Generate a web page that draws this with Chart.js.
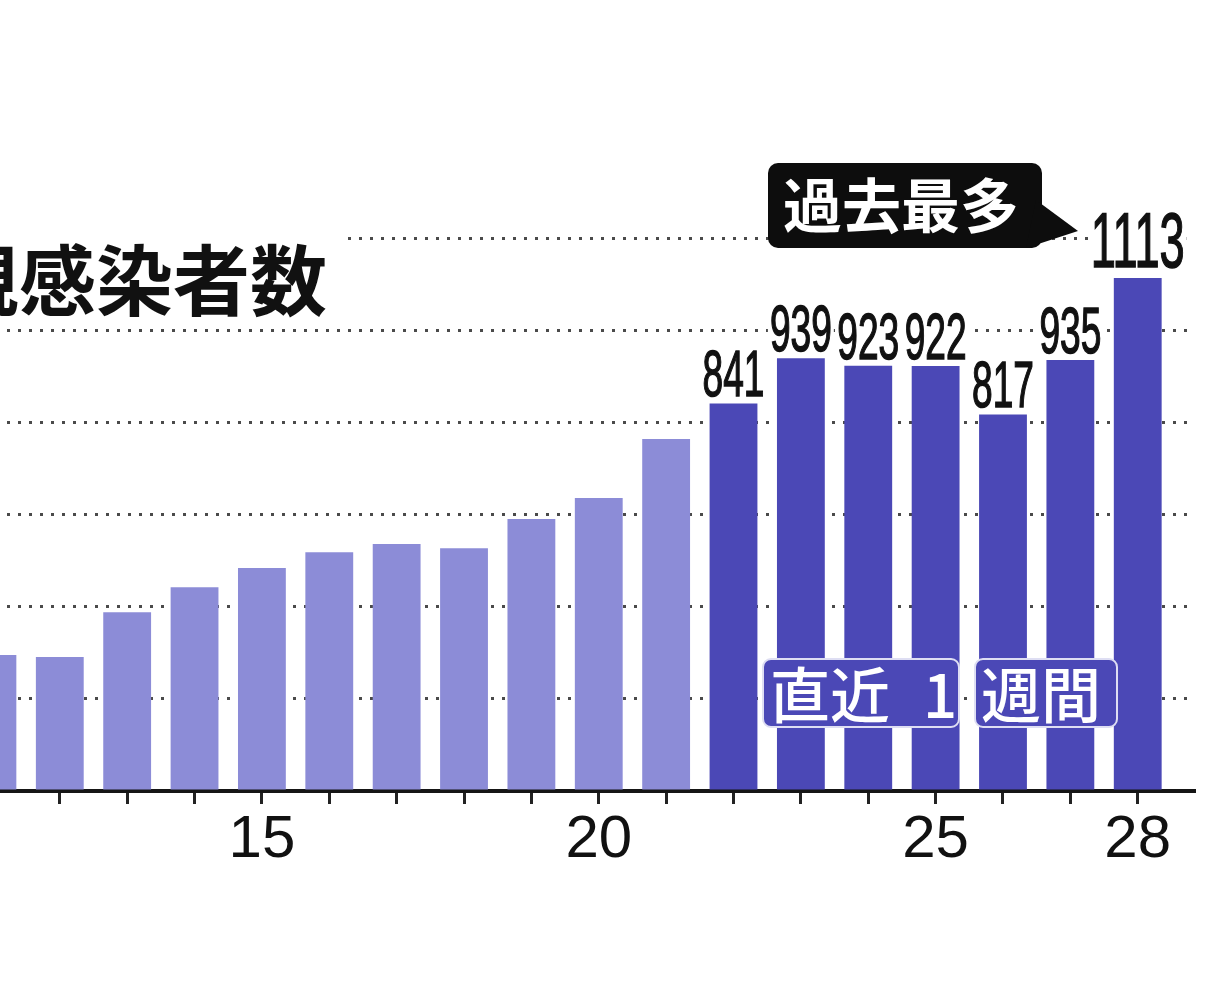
<!DOCTYPE html>
<html lang="ja">
<head>
<meta charset="utf-8">
<title>新規感染者数</title>
<script src="https://cdn.jsdelivr.net/npm/chart.js@4.4.0/dist/chart.umd.min.js"></script>
<style>
  html, body { margin: 0; padding: 0; background: #fff; overflow: hidden; }
  #wrap { position: relative; width: 1210px; height: 990px; overflow: hidden; }
  /* the picture is a crop, so the canvas starts a bit left of the page */
  #chart { position: absolute; left: -200px; top: 0; }
</style>
</head>
<body>
<div id="wrap"><canvas id="chart" width="1410" height="990"></canvas></div>
<script>
// data
const days = [11, 12, 13, 14, 15, 16, 17, 18, 19, 20, 21, 22, 23, 24, 25, 26, 27, 28];
const cases = [295, 291, 388, 442, 484, 518, 536, 527, 590, 636, 764, 841, 939, 923, 922, 817, 935, 1113];
const recentFrom = 22;             // first day of the last week
const xTickLabels = [15, 20, 25, 28];
const yStep = 200;
const yMax = 1200;
const titleText = '新規感染者数';

const lightBlue = '#8c8cd7';
const darkBlue = '#4b48b6';
const SHIFT = 200;                 // canvas offset vs. page
const px = x => x + SHIFT;
const numFont = '"Liberation Sans", Arial, sans-serif';
const jpFont = '"Noto Sans CJK JP", sans-serif';

const decorations = {
  id: 'decorations',
  afterDatasetsDraw(chart) {
    const ctx = chart.ctx;
    const meta = chart.getDatasetMeta(0);
    const maxVal = Math.max(...cases);
    ctx.save();

    // title, with white behind it so the top grid line stops short
    ctx.fillStyle = '#fff';
    ctx.fillRect(0, 226, px(340), 96);
    ctx.fillStyle = '#111';
    ctx.font = 'bold 77px ' + jpFont;
    ctx.textAlign = 'right';
    ctx.textBaseline = 'middle';
    ctx.fillText(titleText, px(327), 281);

    // value labels for the last week
    const labels = [];
    days.forEach((d, i) => {
      if (d < recentFrom) return;
      const bar = meta.data[i];
      const big = cases[i] === maxVal;
      const size = big ? 78 : 64;
      const sx = big ? 0.58 : 0.58;
      ctx.font = size + 'px ' + numFont;
      const text = String(cases[i]);
      const w = ctx.measureText(text).width * sx;
      const base = bar.y - (big ? 11 : 7);
      labels.push({ x: bar.x, base, size, sx, text, w });
    });
    ctx.fillStyle = '#fff';
    labels.forEach(l => {
      const h = l.size * 0.72;
      ctx.fillRect(l.x - l.w / 2 - 2, l.base - h - 3, l.w + 4, h + 6);
    });
    labels.forEach(l => {
      ctx.save();
      ctx.translate(l.x, l.base);
      ctx.scale(l.sx, 1);
      ctx.font = l.size + 'px ' + numFont;
      ctx.fillStyle = '#111';
      ctx.strokeStyle = '#111';
      ctx.lineWidth = 1.5;
      ctx.textAlign = 'center';
      ctx.textBaseline = 'alphabetic';
      ctx.fillText(l.text, 0, 0);
      ctx.strokeText(l.text, 0, 0);
      ctx.restore();
    });

    // 過去最多 callout
    ctx.fillStyle = '#0d0d0d';
    ctx.beginPath();
    ctx.roundRect(px(768), 163, 274, 85, 10);
    ctx.fill();
    ctx.beginPath();
    ctx.moveTo(px(1036), 200);
    ctx.lineTo(px(1078), 231);
    ctx.lineTo(px(1026), 248);
    ctx.closePath();
    ctx.fill();
    ctx.fillStyle = '#fff';
    ctx.font = 'bold 59px ' + jpFont;
    ctx.textAlign = 'left';
    ctx.textBaseline = 'middle';
    ctx.fillText('過去最多', px(783), 206);

    // 直近1週間 tag over the dark bars
    ctx.fillStyle = darkBlue;
    ctx.strokeStyle = '#dedef3';
    ctx.lineWidth = 2;
    [[763, 196], [975, 142]].forEach(([x, w]) => {
      ctx.beginPath();
      ctx.roundRect(px(x), 659, w, 68, 8);
      ctx.fill();
      ctx.stroke();
    });
    ctx.fillStyle = '#fff';
    ctx.font = '500 60px ' + jpFont;
    ctx.textBaseline = 'middle';
    ctx.textAlign = 'left';
    ctx.fillText('直近', px(770), 695);
    ctx.textAlign = 'center';
    ctx.fillText('1', px(940), 695);
    ctx.textAlign = 'left';
    ctx.fillText('週間', px(981), 695);

    ctx.restore();
  }
};

new Chart(document.getElementById('chart'), {
  type: 'bar',
  data: {
    labels: days,
    datasets: [{
      data: cases,
      backgroundColor: days.map(d => d >= recentFrom ? darkBlue : lightBlue),
      borderWidth: 0,
      barPercentage: 0.71,
      categoryPercentage: 1
    }]
  },
  options: {
    responsive: false,
    devicePixelRatio: 1,
    animation: false,
    layout: { padding: { left: 152, right: 15, top: 238, bottom: 0 } },
    plugins: {
      legend: { display: false },
      tooltip: { enabled: false }
    },
    scales: {
      x: {
        type: 'linear',
        offset: false,
        min: 10.4,
        max: 28.85,
        afterFit: s => { s.height = 199; },
        grid: { offset: false, drawOnChartArea: false, drawTicks: true, tickLength: 13, tickWidth: 3, tickColor: '#222' },
        border: { display: true, color: '#151515', width: 4 },
        ticks: {
          stepSize: 1,
          includeBounds: false,
          autoSkip: false,
          maxRotation: 0,
          padding: 0,
          color: '#111',
          font: { family: numFont, size: 60 },
          callback: v => xTickLabels.includes(v) ? String(v) : ''
        }
      },
      y: {
        min: 0,
        max: yMax,
        afterFit: s => { s.width = 0; },
        ticks: { stepSize: yStep, display: false },
        grid: { color: '#4a4a4a', lineWidth: 3, drawTicks: false },
        border: { display: false, dash: [3, 8] }
      }
    }
  },
  plugins: [decorations]
});
</script>
</body>
</html>
